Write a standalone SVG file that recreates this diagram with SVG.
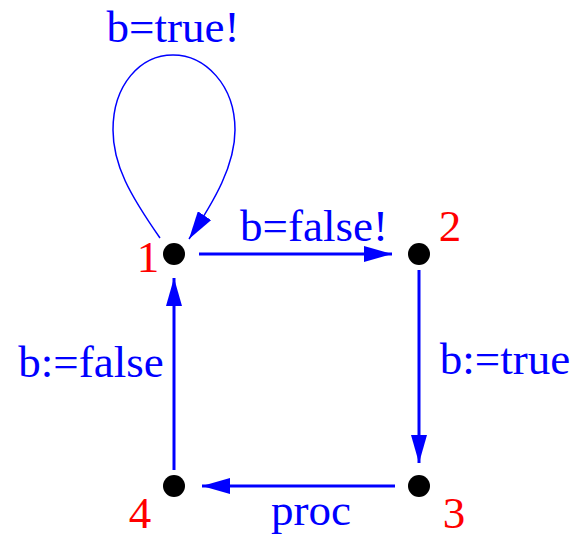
<svg xmlns="http://www.w3.org/2000/svg" width="577" height="539" viewBox="0 0 577 539">
<style>
  .node{fill:#000}
  .edge{stroke:#0000ff;stroke-width:3;fill:none}
  .loop{stroke:#0000ff;stroke-width:1.5;fill:none}
  .lbl{font-family:"Liberation Serif","Times New Roman",serif;font-size:45px;fill:#0000ff;text-anchor:middle}
  .num{font-family:"Liberation Serif","Times New Roman",serif;font-size:45px;fill:#ff0000;text-anchor:middle}
</style>
<defs>
  <marker id="ah" markerUnits="userSpaceOnUse" markerWidth="28" markerHeight="16" refX="28" refY="8" orient="auto">
    <path d="M0,0 L28,8 L0,16 z" fill="#0000ff"/>
  </marker>
</defs>
<rect width="577" height="539" fill="#fff"/>
<g id="connectors">
  <path class="loop" d="M160,238 C130,195 113,165 113,130 C113,85 140,55 173,55 C205,55 235,85 235,130 C235,165 215,200 189,239" marker-end="url(#ah)"/>
  <path class="edge" d="M199,254 L392,254" marker-end="url(#ah)"/>
  <path class="edge" d="M419,270 L419,463" marker-end="url(#ah)"/>
  <path class="edge" d="M395,486 L202,486" marker-end="url(#ah)"/>
  <path class="edge" d="M174,470 L174,278" marker-end="url(#ah)"/>
  <text class="lbl" x="173" y="42">b=true!</text>
  <text class="lbl" x="314" y="241">b=false!</text>
  <text class="lbl" x="505" y="374">b:=true</text>
  <text class="lbl" x="91" y="377">b:=false</text>
  <text class="lbl" x="311" y="525">proc</text>
</g>
<g id="n1"><circle class="node" cx="174" cy="254" r="11"/><text class="num" x="148" y="272">1</text></g>
<g id="n2"><circle class="node" cx="419" cy="254" r="11"/><text class="num" x="450" y="241">2</text></g>
<g id="n3"><circle class="node" cx="419" cy="486" r="11"/><text class="num" x="454" y="528">3</text></g>
<g id="n4"><circle class="node" cx="174" cy="486" r="11"/><text class="num" x="140" y="528">4</text></g>
</svg>
